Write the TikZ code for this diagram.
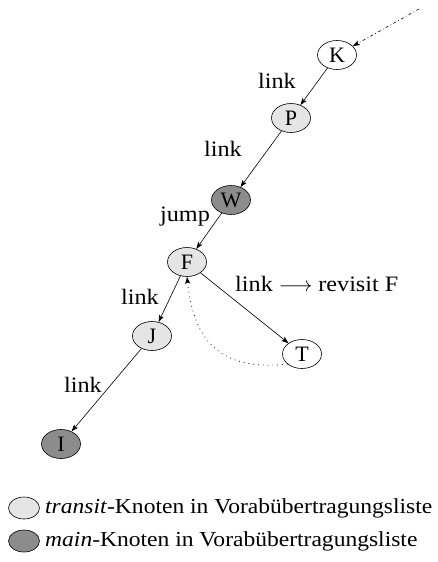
\documentclass[tikz,border=0pt]{standalone}
\usepackage{fontspec}
\setmainfont{Liberation Serif}
\newfontfamily\lblfont[FakeStretch=1.1]{Liberation Serif}
\usetikzlibrary{arrows.meta,shapes.geometric}
\begin{document}
\begin{tikzpicture}[x=1pt,y=-1pt,
  tip/.style={-{Stealth[length=7pt,width=5pt,inset=1.5pt]}},
  vertex/.style={draw,ellipse,line width=0.6pt,minimum width=39pt,minimum height=29pt,inner sep=0pt,font=\fontsize{22}{26}\selectfont},
  plain/.style={vertex,fill=white},
  transit/.style={vertex,fill=black!10},
  mainv/.style={vertex,fill=black!45},
  edge/.style={draw,line width=0.6pt,tip},
  lbl/.style={font=\lblfont\fontsize{22}{26}\selectfont,inner sep=0pt},
  keytext/.style={font=\lblfont\fontsize{21.4}{26}\selectfont,inner sep=0pt,anchor=west},
  key/.style={draw,ellipse,line width=0.6pt,minimum width=31pt,minimum height=22pt}]
\useasboundingbox (0,0) rectangle (437,562);
\node[plain]   (K) at (337,55)  {K};
\node[transit] (P) at (291,118) {P};
\node[mainv]   (W) at (231,200) {W};
\node[transit] (F) at (187,262) {F};
\node[transit] (J) at (152,336) {J};
\node[mainv]   (I) at (61,444)  {I};
\node[plain]   (T) at (302,354) {T};
\coordinate (src) at (419,9);

\draw[line width=0.6pt,dash pattern=on 3pt off 2.5pt on 0.8pt off 2.5pt,tip] (src) -- (K);
\draw[edge] (K) -- (P);
\draw[edge] (P) -- (W);
\draw[edge] (W) -- (F);
\draw[edge] (F) -- (J);
\draw[edge] (J) -- (I);
\draw[edge] (F) -- (T);
\draw[line width=0.7pt,dash pattern=on 0.8pt off 4pt,tip] (T.215) .. controls (215,372) and (193,335) .. (F.south);

\node[lbl] (l1) at (277,81)  {link};
\node[lbl] (l2) at (223,149) {link};
\node[lbl] (l3) at (185,217) {jump};
\node[lbl,anchor=west] (l4) at (235,284) {link $\longrightarrow$ revisit F};
\node[lbl] (l5) at (140,297) {link};
\node[lbl] (l6) at (83,385)  {link};

\node[key,fill=black!10] (lg1) at (24,508) {};
\node[key,fill=black!45] (lg2) at (24,541) {};
\node[keytext] (t1) at (45,508) {\textit{transit}-Knoten in Vorabübertragungsliste};
\node[keytext] (t2) at (45,541) {\textit{main}-Knoten in Vorabübertragungsliste};
\end{tikzpicture}
\end{document}
